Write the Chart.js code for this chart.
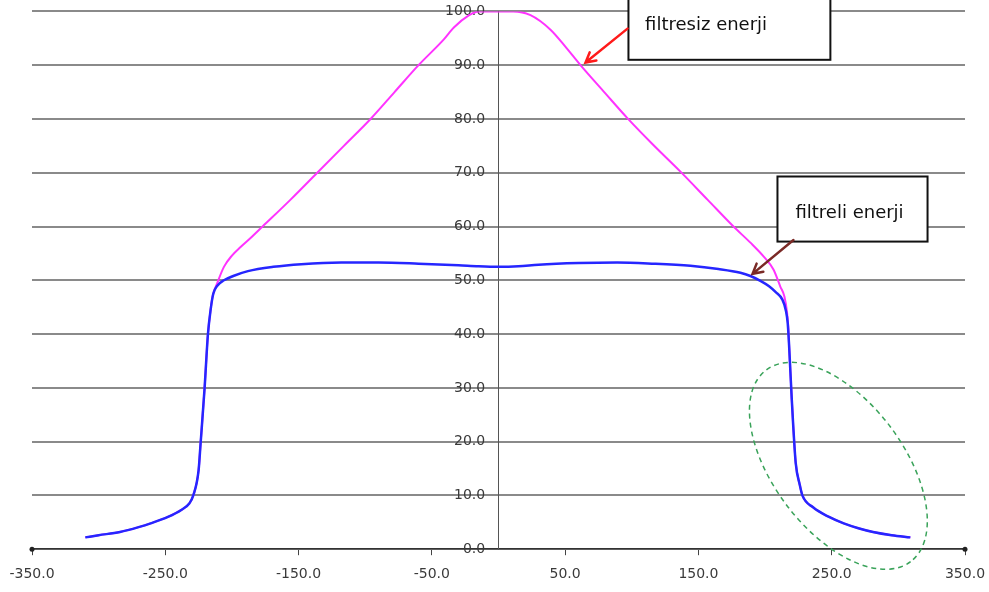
<!DOCTYPE html>
<html>
<head>
<meta charset="utf-8">
<script src="https://cdn.jsdelivr.net/npm/chart.js@4.4.0/dist/chart.umd.min.js"></script>
<style>
  html, body { margin: 0; padding: 0; background: #fff; }
</style>
</head>
<body>
<canvas id="energyChart" width="989" height="592"></canvas>
<script>
// Profile across the field: position (mm) vs relative energy (%)
const filteredX = [-310, -300, -284, -270, -261, -248, -238, -232, -229, -225, -223.5, -220.5, -218, -216, -214, -211, -206, -199, -188, -169, -148, -118, -90, -60, -30, -15, 0, 15, 30, 60, 89, 115, 144, 165, 181.5, 189, 196.5, 203, 208, 213, 215.5, 217, 218, 219, 220, 221, 223, 226, 228, 236, 248, 259, 270, 281, 295, 309];
const filteredY = [2.2, 2.6, 3.2, 4.1, 4.8, 6.0, 7.3, 8.5, 10, 14.7, 19.7, 30, 40, 44.5, 47.5, 49, 50, 50.8, 51.7, 52.5, 53, 53.3, 53.3, 53.1, 52.8, 52.6, 52.5, 52.6, 52.9, 53.2, 53.3, 53.1, 52.7, 52.1, 51.4, 50.8, 49.9, 48.9, 47.8, 46.4, 44.5, 42, 38, 33, 28, 23.5, 16, 12, 10, 7.8, 6.0, 4.8, 3.9, 3.2, 2.6, 2.2];

const unfilteredX = [-310, -300, -284, -270, -261, -248, -238, -232, -229, -225, -223.5, -220.5, -218, -216, -214.5, -211, -206, -200, -193.5, -185, -177, -156, -136, -116, -96, -78, -60, -41, -33.5, -22, -15, 0, 11, 24, 39, 50, 61.5, 80, 96.5, 116, 136.5, 156.8, 176.3, 189, 199, 206.3, 211.5, 214.5, 216.5, 217.5, 218, 219, 220, 221, 223, 226, 228, 236, 248, 259, 270, 281, 295, 309];
const unfilteredY = [2.2, 2.6, 3.2, 4.1, 4.8, 6.0, 7.3, 8.5, 10, 14.7, 19.7, 30, 40, 44.5, 47, 49.5, 52.5, 54.6, 56.2, 58.1, 60, 65, 70, 75, 80, 85, 90, 94.8, 97, 99.3, 100, 100, 100, 99.3, 96.6, 93.5, 90, 84.8, 80.2, 75.2, 70.2, 65, 60, 57, 54.4, 52, 48.8, 47, 44, 41, 38, 33, 28, 23.5, 16, 12, 10, 7.8, 6.0, 4.8, 3.9, 3.2, 2.6, 2.2];

const xTicks = [-350, -250, -150, -50, 50, 150, 250, 350];
const yTicks = [0, 10, 20, 30, 40, 50, 60, 70, 80, 90, 100];

// Callout boxes with arrows, placed in data units
const callouts = [
  { text: 'filtresiz enerji', box: [97.5, 106, 249, 91], textAt: [110, 96.6], tail: [96.8, 96.8], tip: [65.3, 90.5], arrowColor: '#ff1a1a' },
  { text: 'filtreli enerji', box: [209.3, 69.3, 321.9, 57.2], textAt: [222.8, 61.6], tail: [221.3, 57.5], tip: [190.6, 51.2], arrowColor: '#7a2a26' }
];
const tailMarker = { center: [255, 15.5], rx: 120, ry: 65, angle: 53 };

function toPoints(xs, ys) {
  return xs.map((x, i) => ({ x: x, y: ys[i] }));
}

function drawArrow(ctx, x1, y1, x2, y2, color) {
  const ang = Math.atan2(y2 - y1, x2 - x1);
  const head = 11;
  ctx.save();
  ctx.strokeStyle = color;
  ctx.lineWidth = 2.5;
  ctx.lineCap = 'round';
  ctx.beginPath();
  ctx.moveTo(x1, y1);
  ctx.lineTo(x2, y2);
  ctx.moveTo(x2 - head * Math.cos(ang - 0.5), y2 - head * Math.sin(ang - 0.5));
  ctx.lineTo(x2, y2);
  ctx.lineTo(x2 - head * Math.cos(ang + 0.5), y2 - head * Math.sin(ang + 0.5));
  ctx.stroke();
  ctx.restore();
}

const annotationsPlugin = {
  id: 'annotations',
  afterDraw(chart) {
    const ctx = chart.ctx;
    const xs = chart.scales.x, ys = chart.scales.y;
    const px = v => xs.getPixelForValue(v);
    const py = v => ys.getPixelForValue(v);

    // end markers of the x axis
    ctx.save();
    ctx.fillStyle = '#222';
    [xs.min, xs.max].forEach(v => {
      ctx.beginPath();
      ctx.arc(px(v), py(0), 2.5, 0, Math.PI * 2);
      ctx.fill();
    });
    ctx.restore();

    // dashed ellipse around the right penumbra tail
    ctx.save();
    ctx.strokeStyle = '#3aa35a';
    ctx.lineWidth = 1.5;
    ctx.setLineDash([5, 4]);
    ctx.beginPath();
    ctx.ellipse(px(tailMarker.center[0]), py(tailMarker.center[1]), tailMarker.rx, tailMarker.ry,
      tailMarker.angle * Math.PI / 180, 0, Math.PI * 2);
    ctx.stroke();
    ctx.restore();

    callouts.forEach(c => {
      const x1 = px(c.box[0]), y1 = py(c.box[1]);
      const x2 = px(c.box[2]), y2 = py(c.box[3]);
      ctx.save();
      ctx.fillStyle = '#fff';
      ctx.fillRect(x1, y1, x2 - x1, y2 - y1);
      ctx.strokeStyle = '#111';
      ctx.lineWidth = 2;
      ctx.strokeRect(x1, y1, x2 - x1, y2 - y1);
      ctx.fillStyle = '#111';
      ctx.font = '18px "DejaVu Sans"';
      ctx.textBaseline = 'alphabetic';
      ctx.fillText(c.text, px(c.textAt[0]), py(c.textAt[1]));
      ctx.restore();
      drawArrow(ctx, px(c.tail[0]), py(c.tail[1]), px(c.tip[0]), py(c.tip[1]), c.arrowColor);
    });
  }
};

const tickFont = { family: 'DejaVu Sans', size: 14 };

new Chart(document.getElementById('energyChart'), {
  type: 'line',
  data: {
    datasets: [
      {
        label: 'filtreli enerji',
        data: toPoints(filteredX, filteredY),
        borderColor: '#2626ff',
        borderWidth: 2.5,
        pointRadius: 0,
        cubicInterpolationMode: 'monotone'
      },
      {
        label: 'filtresiz enerji',
        data: toPoints(unfilteredX, unfilteredY),
        borderColor: '#ff33ff',
        borderWidth: 2,
        pointRadius: 0,
        cubicInterpolationMode: 'monotone'
      }
    ]
  },
  options: {
    responsive: false,
    animation: false,
    layout: { padding: { left: 32, right: 24, top: 4, bottom: -2 } },
    plugins: {
      legend: { display: false },
      tooltip: { enabled: false }
    },
    scales: {
      x: {
        type: 'linear',
        min: -350,
        max: 350,
        afterBuildTicks: axis => { axis.ticks = xTicks.map(v => ({ value: v })); },
        // edge labels may hang over the canvas padding
        afterFit: axis => { axis.paddingLeft = 0; axis.paddingRight = 0; },
        ticks: {
          callback: v => v.toFixed(1),
          font: tickFont,
          color: '#3a3a3a',
          padding: 11,
          maxRotation: 0,
          autoSkip: false
        },
        grid: { drawOnChartArea: false, drawTicks: true, tickLength: 6, color: '#444', lineWidth: 1 },
        border: { color: '#333', width: 1.5 }
      },
      y: {
        type: 'linear',
        min: 0,
        max: 100,
        position: { x: 0 },
        afterBuildTicks: axis => { axis.ticks = yTicks.map(v => ({ value: v })); },
        ticks: {
          // labels sit left of the centre axis, a few spaces off the line
          callback: v => v.toFixed(1) + '   ',
          font: tickFont,
          color: '#3a3a3a'
        },
        grid: { color: '#8a8a8a', lineWidth: 2, drawTicks: false },
        border: { color: '#555', width: 1 }
      }
    }
  },
  plugins: [annotationsPlugin]
});
</script>
</body>
</html>
